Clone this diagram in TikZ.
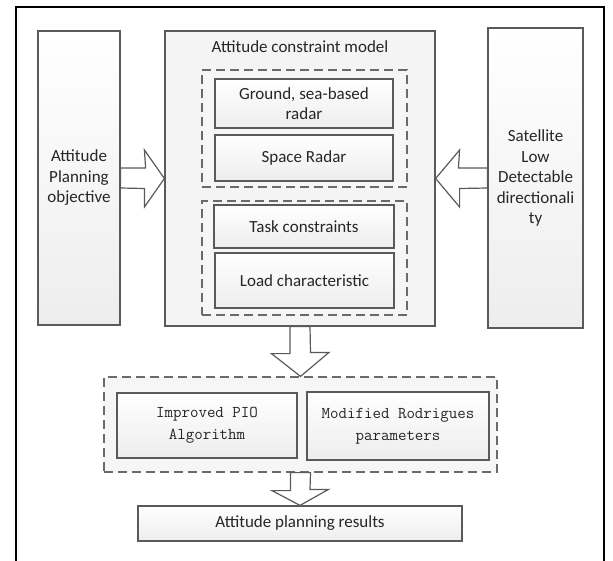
\documentclass[tikz,border=0pt]{standalone}
\usepackage{fontspec}
\setmainfont{Carlito}
\usetikzlibrary{calc}

\definecolor{boxgray}{HTML}{5A5A5A}
\definecolor{dashgray}{HTML}{6A6A6A}

\tikzset{
  box/.style={draw=boxgray, line width=1.2pt, top color=white, bottom color=gray!14,
    align=center, inner sep=0pt, text=black!85, font=\fontsize{17}{20.5}\selectfont},
  grp/.style={draw=dashgray, dash pattern=on 9pt off 5pt, line width=1.2pt,
    fill=gray!7, inner sep=0pt},
  simbox/.style={box, font=\ttfamily\fontsize{16.5}{22}\selectfont},
  barrow/.style={draw=boxgray, line width=1.2pt, fill=white, line join=miter},
}

\begin{document}
\begin{tikzpicture}[x=1pt, y=-1pt]

    \useasboundingbox (0,0) rectangle (613,560);

    % Frame
    \draw[line width=2pt] (16,565) -- (16,7) -- (604,7) -- (604,565);

    % Side boxes
    \node[box, minimum width=82, minimum height=294] (plan) at (79,178)
        {Attitude\\Planning\\objective};
    \node[box, minimum width=95, minimum height=300] (sat) at (535.5,178)
        {Satellite\\Low\\Detectable\\directionali\\ty};

    % Attitude constraint model
    \node[draw=boxgray, line width=1.2pt, fill=gray!9, minimum width=270,
        minimum height=295, inner sep=0pt] (cons) at (300,178.5) {};
    \node[text=black!85, font=\fontsize{17}{20}\selectfont] (title) at (300,47)
        {Attitude constraint model};

    \node[grp, minimum width=205, minimum height=117] (grpa) at (304.5,128.5) {};
    \node[box, minimum width=178, minimum height=49] (ground) at (304,103.5)
        {Ground, sea-based\\radar};
    \node[box, minimum width=178, minimum height=46] (space) at (304,158)
        {Space Radar};

    \node[grp, minimum width=205, minimum height=114] (grpb) at (304.5,258) {};
    \node[box, minimum width=180, minimum height=43] (task) at (304,226.5)
        {Task constraints};
    \node[box, minimum width=179, minimum height=55] (load) at (304.5,280.5)
        {Load characteristic};

    % Algorithm group
    \node[grp, minimum width=393, minimum height=95] (grpc) at (300.5,424.5) {};
    \node[simbox, minimum width=180, minimum height=65] (pio) at (207,425.5)
        {Improved PIO\\Algorithm};
    \node[simbox, minimum width=182, minimum height=68] (rod) at (398,426)
        {Modified Rodrigues\\parameters};

    % Result
    \node[box, minimum width=324, minimum height=35] (res) at (300,523.5)
        {Attitude planning results};

    % Block arrows
    \draw[barrow] ($(plan.east)+(0,-10)$) -- ++(25,0) -- ($(cons.west)+(-20,-28.5)$) -- (cons.west)
        -- ($(cons.west)+(-20,28.5)$) -- ++(0,-18.5) -- ($(plan.east)+(0,10)$) -- cycle;
    \draw[barrow] ($(sat.west)+(0,-10)$) -- ++(-29,0) -- ($(cons.east)+(24,-28.5)$) -- (cons.east)
        -- ($(cons.east)+(24,28.5)$) -- ++(0,-18.5) -- ($(sat.west)+(0,10)$) -- cycle;
    \draw[barrow] ($(cons.south)+(-10,0)$) -- ++(0,27) -- ++(-18.5,0) -- (grpc.north)
        -- ($(grpc.north)+(28.5,-24)$) -- ++(-18.5,0) -- ($(cons.south)+(10,0)$) -- cycle;
    \draw[barrow] ($(grpc.south)+(-10,0)$) -- ++(0,18) -- ++(-18.5,0) -- (res.north)
        -- ($(res.north)+(28.5,-16)$) -- ++(-18.5,0) -- ($(grpc.south)+(10,0)$) -- cycle;

\end{tikzpicture}
\end{document}
